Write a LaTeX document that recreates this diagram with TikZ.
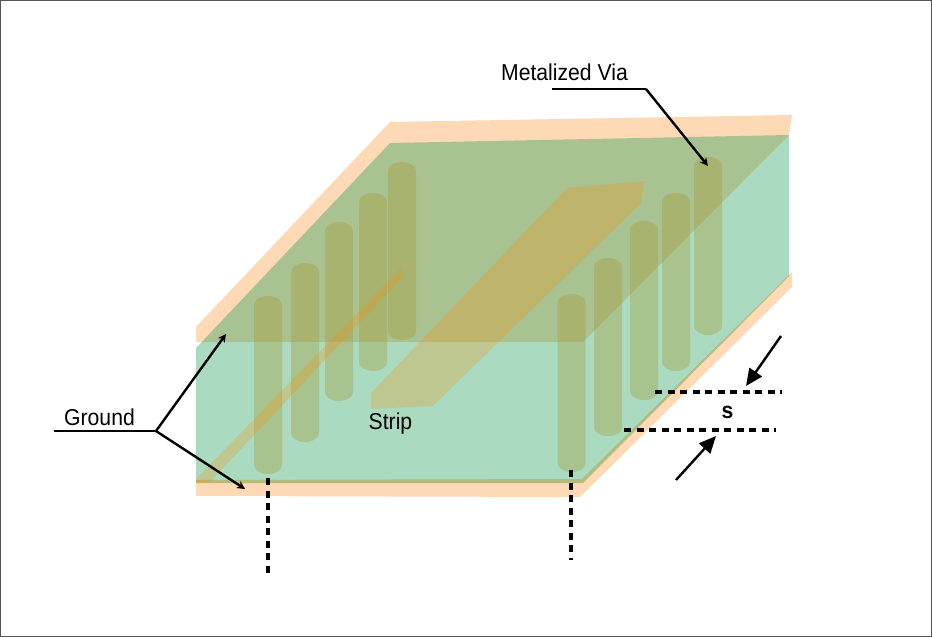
\documentclass[tikz,border=0pt]{standalone}
\usepackage{fontspec}
\setmainfont{Liberation Sans}[FakeStretch=0.92]
\usetikzlibrary{arrows.meta}
\definecolor{copperc}{HTML}{FDD9B5}
\definecolor{subc}{RGB}{8,152,76}
\definecolor{viac}{RGB}{168,155,55}
\definecolor{stripc}{RGB}{255,140,0}
\definecolor{framec}{HTML}{555555}
\tikzset{
  copper/.style={fill=copperc,draw=none},
  substrate/.style={fill=subc,fill opacity=.34,draw=none},
  viafill/.style={fill=viac,fill opacity=.37,draw=none},
  stripfill/.style={fill=stripc,fill opacity=.25,draw=none},
  bandfill/.style={fill=stripc,fill opacity=.12,draw=none},
  leader/.style={draw=black,line width=2.4pt,-{Stealth[length=8pt,width=8pt,inset=2.5pt]}},
  leaderplain/.style={draw=black,line width=2.4pt},
  bigarrow/.style={draw=black,line width=2.4pt,-{Stealth[length=17pt,width=15pt,inset=0pt]}},
  dashline/.style={draw=black,line width=3.2pt,dash pattern=on 7pt off 5.5pt},
  lbl/.style={font=\fontsize{23}{27}\selectfont,text=black,inner sep=0pt}
}
\newcommand{\viaat}[3]{%
  \path[viafill] (#1,{#2+9}) .. controls (#1,{#2+4}) and ({#1+6},#2) .. ({#1+14},#2)
    .. controls ({#1+22},#2) and ({#1+28},{#2+4}) .. ({#1+28},{#2+9})
    -- ({#1+28},{#3-9}) .. controls ({#1+28},{#3-4}) and ({#1+22},#3) .. ({#1+14},#3)
    .. controls ({#1+6},#3) and (#1,{#3-4}) .. (#1,{#3-9}) -- cycle;}
\begin{document}
\begin{tikzpicture}[x=1pt,y=-1pt]
\useasboundingbox (0,0) rectangle (932,637);
\fill[white] (0,0) rectangle (932,637);
\draw[framec,line width=1pt] (0.5,0.5) rectangle (931.5,636.5);
% copper planes
\path[copper] (196,327) -- (390,122) -- (792,115) -- (789,135) -- (583,342) -- (196,342) -- cycle;
\path[copper] (196,480) -- (582,479) -- (792,272) -- (792,287) -- (580,497) -- (196,496) -- cycle;
% substrate
\path[substrate] (196,348) -- (390,143) -- (789,135) -- (789,276) -- (583,483) -- (196,483) -- cycle;
% vias
\viaat{254}{296}{474}
\viaat{291}{263}{442}
\viaat{325}{222}{401}
\viaat{359}{193}{371}
\viaat{388}{162}{340}
\viaat{557.5}{294}{472}
\viaat{594}{258}{436}
\viaat{630}{221}{400}
\viaat{662}{193}{371}
\viaat{694}{157}{335}
% strips
\path[stripfill] (567,188) -- (644,181) -- (641,203) -- (433,406) -- (371,409) -- (371,393) -- cycle;
\path[stripfill] (196,479) -- (402,267) -- (402,278) -- (210,482) -- (196,483) -- cycle;
\path[bandfill] (196,480) -- (582,479) -- (789,275) -- (789,276) -- (583,483) -- (196,483) -- cycle;
% labels
\node[lbl] (via) at (564.5,72) {Metalized Via};
\node[lbl] (ground) at (99.5,417) {Ground};
\node[lbl] (strip) at (390.5,424) {Strip};
\node[lbl,font=\fontsize{23}{27}\selectfont\bfseries] (s) at (727.5,412) {s};
% leader coordinates
\coordinate (va) at (552,89);
\coordinate (vb) at (646,89);
\coordinate (vc) at (708,166);
\coordinate (ga) at (54,431);
\coordinate (gb) at (156,431);
\coordinate (gc) at (226,334);
\coordinate (gd) at (245,489);
\coordinate (d1a) at (268,478);
\coordinate (d1b) at (268,575);
\coordinate (d2a) at (571,470);
\coordinate (d2b) at (571,560);
\coordinate (d3a) at (655,392);
\coordinate (d3b) at (782,392);
\coordinate (d4a) at (624,430);
\coordinate (d4b) at (776,430);
\coordinate (a1a) at (781,336);
\coordinate (a1b) at (746,386);
\coordinate (a2a) at (676,480);
\coordinate (a2b) at (716,436);
\draw[leaderplain] (va) -- (vb);
\draw[leader] (vb) -- (vc);
\draw[leaderplain] (ga) -- (gb);
\draw[leader] (gb) -- (gc);
\draw[leader] (gb) -- (gd);
\draw[dashline] (d1a) -- (d1b);
\draw[dashline] (d2a) -- (d2b);
\draw[dashline] (d3a) -- (d3b);
\draw[dashline] (d4a) -- (d4b);
\draw[bigarrow] (a1a) -- (a1b);
\draw[bigarrow] (a2a) -- (a2b);
\end{tikzpicture}
\end{document}
